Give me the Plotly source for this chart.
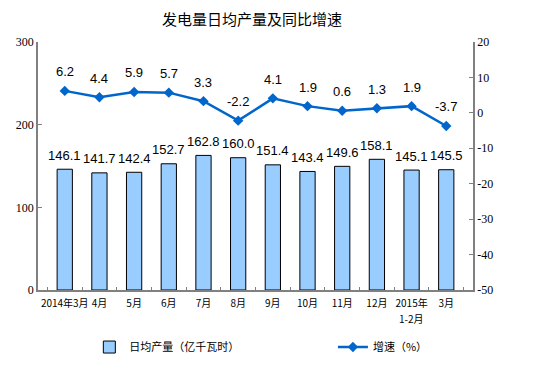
import plotly.graph_objects as go

categories = ["2014年3月", "4月", "5月", "6月", "7月", "8月", "9月", "10月", "11月", "12月", "2015年1-2月", "3月"]
tick_line1 = ["2014年3月", "4月", "5月", "6月", "7月", "8月", "9月", "10月", "11月", "12月", "2015年", "3月"]
tick_line2 = ["", "", "", "", "", "", "", "", "", "", "1-2月", ""]
daily_output = [146.1, 141.7, 142.4, 152.7, 162.8, 160.0, 151.4, 143.4, 149.6, 158.1, 145.1, 145.5]
growth = [6.2, 4.4, 5.9, 5.7, 3.3, -2.2, 4.1, 1.9, 0.6, 1.3, 1.9, -3.7]
left_ticks = [0, 100, 200, 300]
right_ticks = [-50, -40, -30, -20, -10, 0, 10, 20]

fig = go.Figure()
fig.add_trace(go.Bar(
    x=categories, y=daily_output, name="日均产量（亿千瓦时）",
    marker=dict(color="#99CCFF", line=dict(color="#000000", width=1)),
    width=0.44, legend="legend",
))
fig.add_trace(go.Scatter(
    x=categories, y=growth, name="增速（%）", yaxis="y2",
    mode="lines+markers",
    line=dict(color="#0066CC", width=2.5),
    marker=dict(symbol="diamond", size=8, color="#0066CC"),
    cliponaxis=False, legend="legend2",
))

label_font = dict(family="Liberation Sans, Arial", size=13, color="#000000")
cat_font = dict(family="Noto Sans CJK SC", size=10, color="#000000")
for c, v in zip(categories, daily_output):
    fig.add_annotation(x=c, y=v, xref="x", yref="y", text=f"{v:.1f}", showarrow=False,
                       yanchor="middle", yshift=14, font=label_font)
for c, v in zip(categories, growth):
    fig.add_annotation(x=c, y=v, xref="x", yref="y2", text=f"{v:.1f}", showarrow=False,
                       yanchor="middle", yshift=19, font=label_font)
for c, t in zip(categories, tick_line2):
    if t:
        fig.add_annotation(x=c, y=0, xref="x", yref="paper", text=t, showarrow=False,
                           yanchor="middle", yshift=-28, font=cat_font)

axis_font = dict(family="Liberation Serif, Times New Roman, serif", size=12, color="#000000")
legend_font = dict(family="Noto Sans CJK SC", size=11, color="#000000")

fig.update_layout(
    width=554, height=382,
    margin=dict(l=38, r=81, t=42, b=92, autoexpand=False),
    paper_bgcolor="white", plot_bgcolor="white",
    showlegend=True,
    title=dict(text="发电量日均产量及同比增速", x=0.455, xanchor="center", y=0.947, yanchor="middle",
               font=dict(family="Noto Sans CJK SC", size=15, color="#000000")),
    xaxis=dict(
        type="category", tickson="boundaries", ticks="inside", ticklen=3,
        tickmode="array", tickvals=categories, ticktext=tick_line1,
        showline=True, linecolor="#808080", linewidth=1.5, tickcolor="#808080",
        tickfont=cat_font, ticklabelstandoff=3,
        tickangle=0, automargin=False,
        showgrid=False, mirror=False,
    ),
    yaxis=dict(
        range=[0, 300], tickvals=left_ticks, ticktext=[str(v) for v in left_ticks],
        ticks="inside", ticklen=4, automargin=False,
        showline=True, linecolor="#808080", linewidth=1.5, tickcolor="#808080",
        tickfont=axis_font, showgrid=False, zeroline=False,
    ),
    yaxis2=dict(
        range=[-50, 20], tickvals=right_ticks, ticktext=[str(v) for v in right_ticks],
        ticks="inside", ticklen=4, side="right", overlaying="y", automargin=False,
        showline=True, linecolor="#808080", linewidth=1.5, tickcolor="#808080",
        tickfont=axis_font, showgrid=False, zeroline=False,
    ),
    legend=dict(
        orientation="h", x=0.118, xanchor="left", y=-0.23, yanchor="middle",
        font=legend_font, bgcolor="rgba(0,0,0,0)",
    ),
    legend2=dict(
        orientation="h", x=0.678, xanchor="left", y=-0.23, yanchor="middle",
        font=legend_font, bgcolor="rgba(0,0,0,0)",
    ),
)

fig.write_html("out.html", config={"displayModeBar": False},
               post_script="document.body.style.margin='0';")
